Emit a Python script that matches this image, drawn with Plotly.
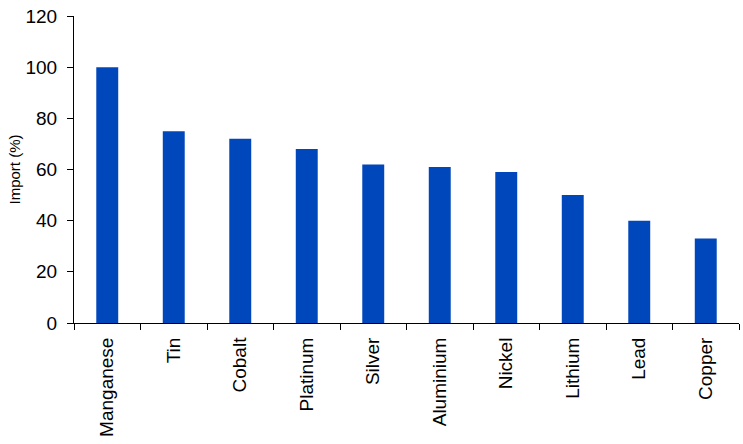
import plotly.graph_objects as go

metals = ["Manganese", "Tin", "Cobalt", "Platinum", "Silver",
          "Aluminium", "Nickel", "Lithium", "Lead", "Copper"]
import_pct = [100, 75, 72, 68, 62, 61, 59, 50, 40, 33]
y_ticks = [0, 20, 40, 60, 80, 100, 120]

fig = go.Figure(go.Bar(x=metals, y=import_pct, marker_color="#0047BB",
                       marker_line_width=0, hoverinfo="skip"))

fig.update_layout(
    width=743, height=444,
    margin=dict(l=74, r=4, t=16, b=121),
    plot_bgcolor="white", paper_bgcolor="white",
    font=dict(family="Liberation Sans, Arial, sans-serif", color="black", size=18),
    bargap=0.67,
    showlegend=False,
)
fig.update_xaxes(
    showline=True, linecolor="black", linewidth=1, automargin=False,
    ticks="outside", tickson="boundaries", ticklen=6, tickcolor="black",
    tickangle=-90, showgrid=False, tickfont=dict(size=19), ticklabelstandoff=6,
)
fig.update_yaxes(
    range=[0, 120], tickvals=y_ticks, showline=True, linecolor="black", linewidth=1,
    ticks="outside", ticklen=6, tickcolor="black", showgrid=False, zeroline=False,
    automargin=False, tickfont=dict(size=19), ticklabelstandoff=6,
    title=dict(text="Import (%)", font=dict(size=15), standoff=1),
)

# page has a default body margin; drop it so the chart sits at 0,0
fig.write_html("out.html", config={"displayModeBar": False},
               post_script="document.body.style.margin='0';")
